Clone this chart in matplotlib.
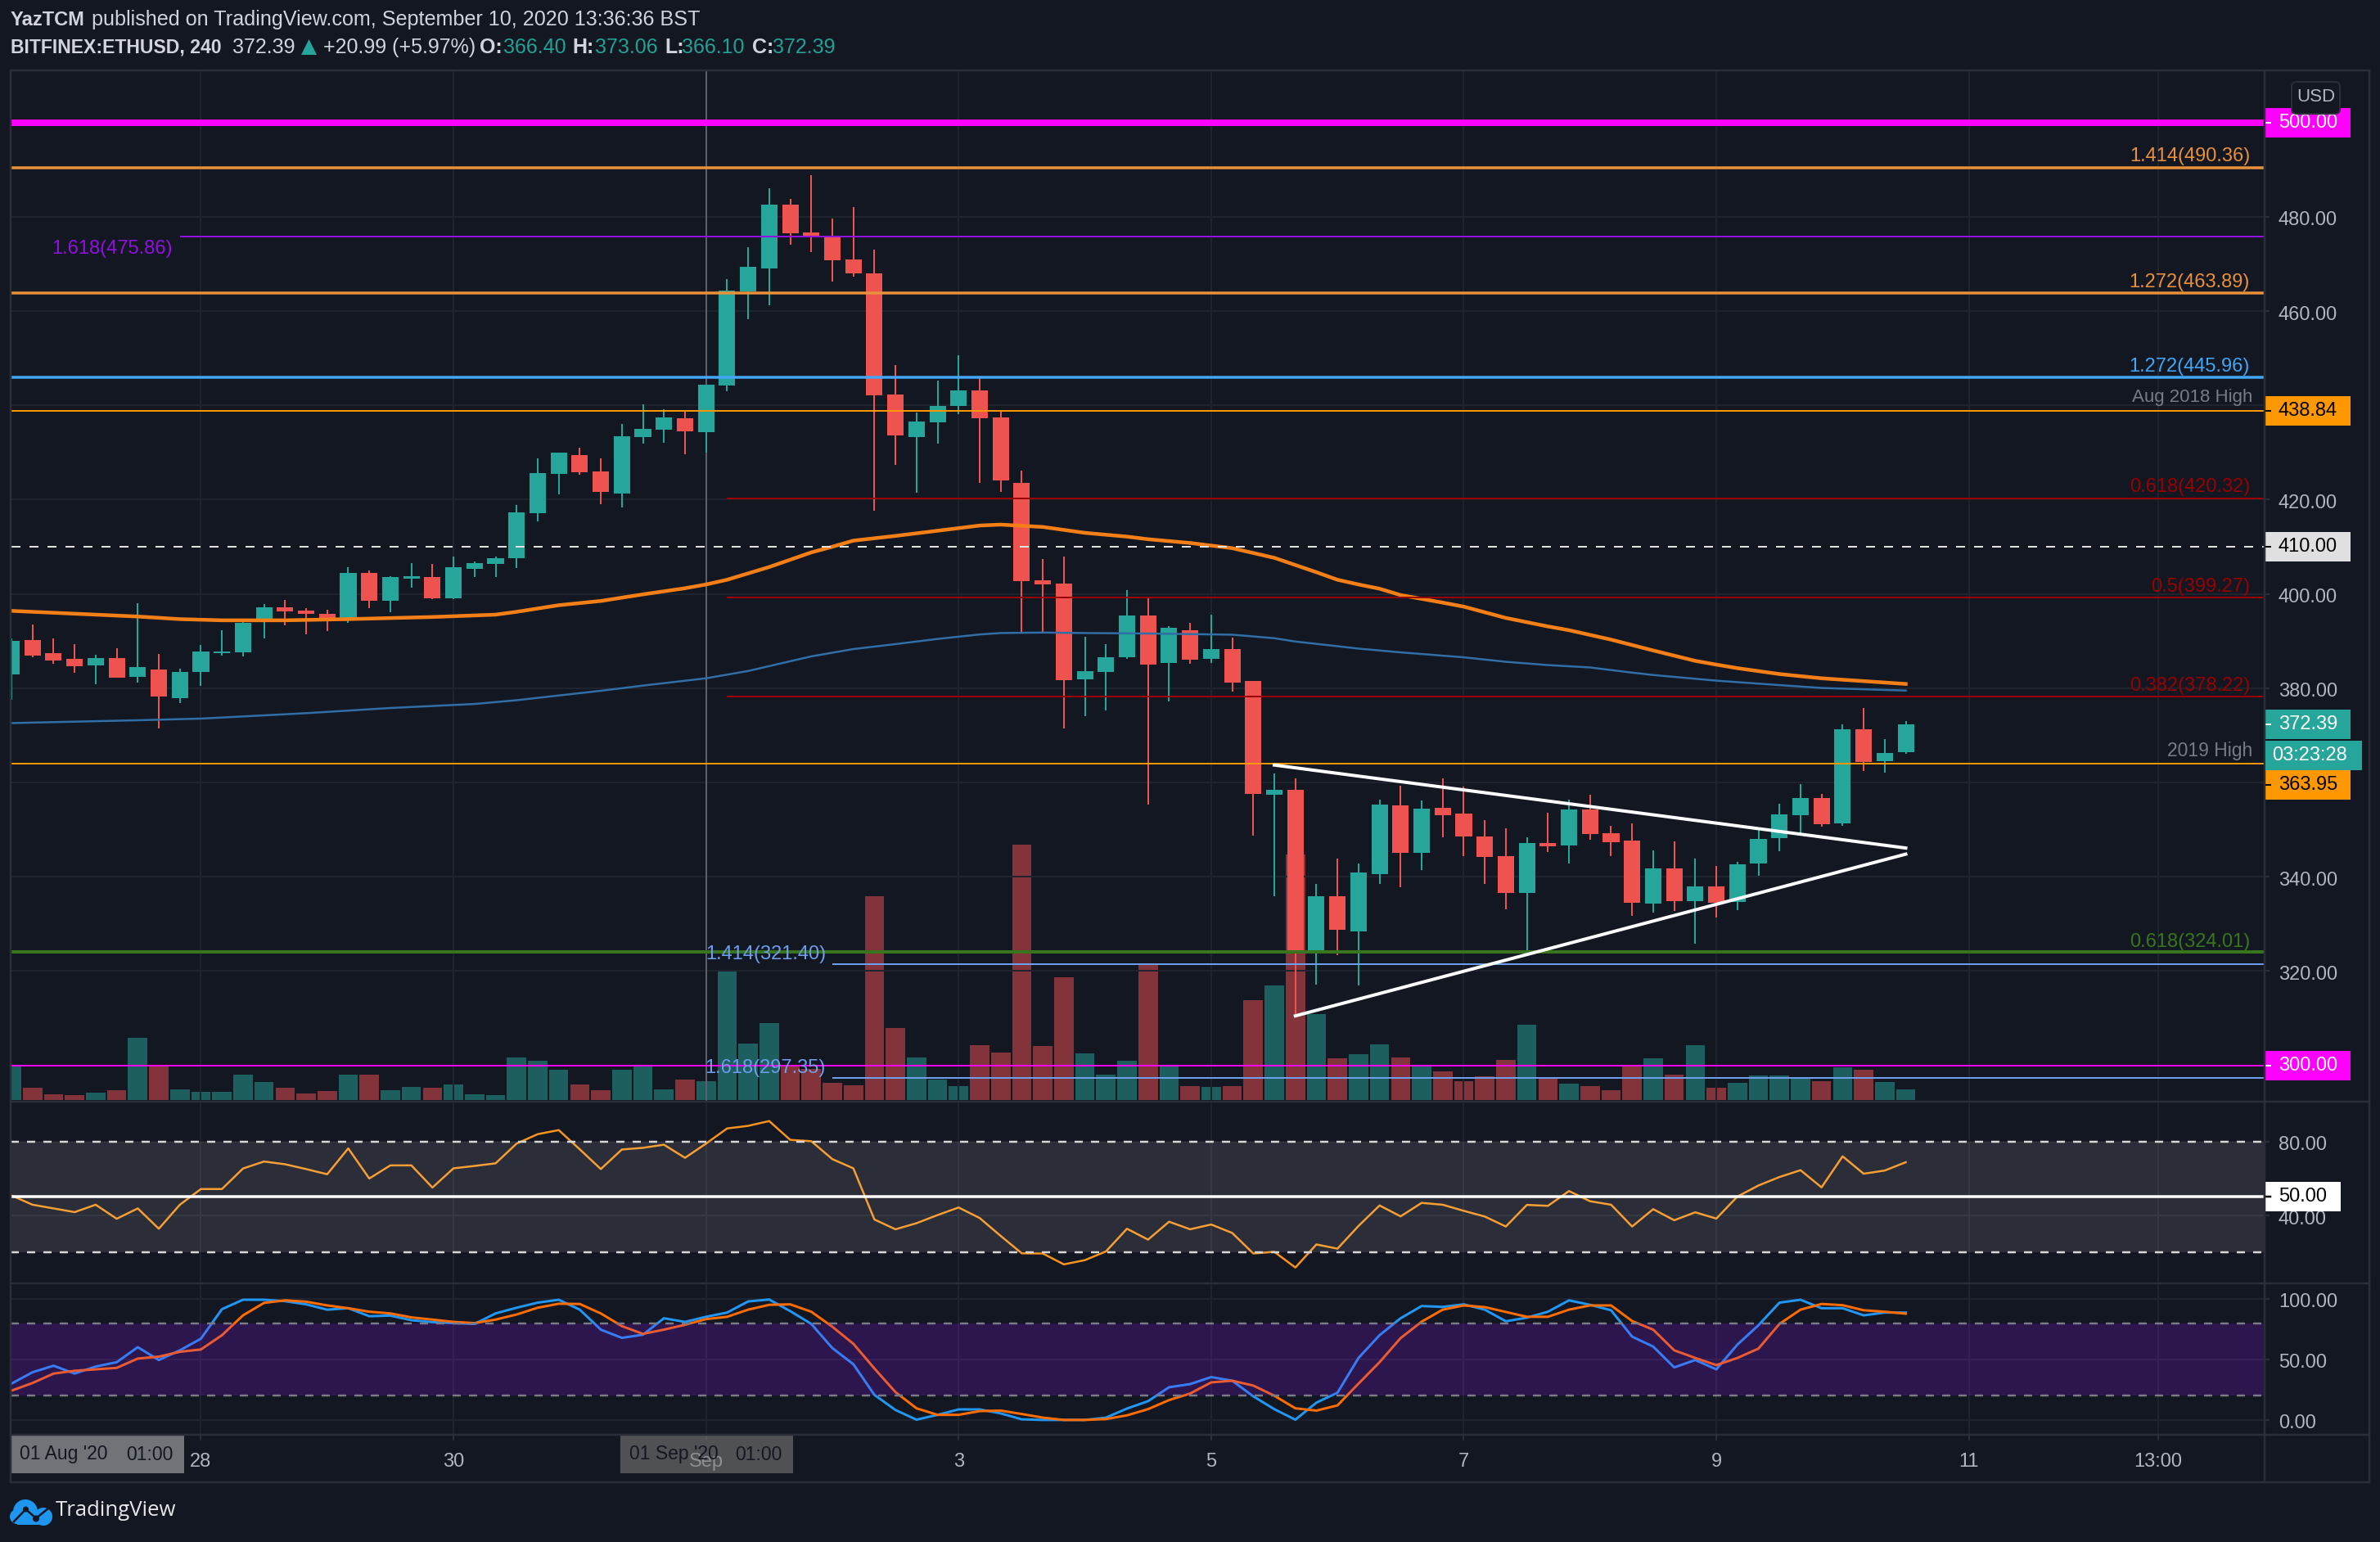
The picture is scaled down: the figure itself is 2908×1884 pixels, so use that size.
import matplotlib
matplotlib.use("Agg")
import matplotlib.pyplot as plt
from matplotlib.patches import Rectangle, Polygon, Circle, FancyBboxPatch
from matplotlib.lines import Line2D
from matplotlib.transforms import IdentityTransform, ScaledTranslation

W, H = 2908, 1884
BG = "#131722"
GRID = "#1F232D"
BORDER = "#2A2E39"
UP = "#26A69A"
DOWN = "#EF5350"
VOL_UP = "#1D5E5E"
VOL_DOWN = "#83343A"
AXIS_TXT = "#B2B5BE"
FONT = "Liberation Sans"

# ohlc of the 4h candles
opens = [382.9, 390.15, 387.4, 386.2, 384.9, 386.35, 382.4, 383.95, 377.9, 383.5,
         387.45, 387.65, 394.5, 397.1, 396.4, 395.7, 394.65, 404.4, 398.6, 403.3,
         403.55, 399.1, 405.4, 406.35, 407.5, 417.2, 425.45, 429.4, 426, 421.35,
         433.3, 434.9, 437.25, 434.3, 444.2, 464.1, 469, 482.6, 476.7, 475.6,
         471, 468, 442.3, 433.25, 436.4, 439.85, 443.15, 437.4, 423.6, 402.85,
         402.25, 381.85, 383.45, 386.55, 395.4, 385.3, 392.3, 386.2, 388.3, 381.5,
         357.4, 358.5, 323.75, 335.9, 328.45, 340.5, 355.1, 345, 354.6, 353.45,
         348.55, 344.4, 336.6, 347.15, 346.6, 354.3, 349.3, 347.65, 334.25, 341.75,
         334.8, 337.95, 334.7, 342.75, 348.2, 353.05, 356.65, 351.25, 371.3, 364.5, 366.4]
highs = [390.5, 393.5, 390.6, 389.3, 387.05, 388.45, 398, 387.2, 384.1, 389.15,
         392.25, 394.5, 397.8, 398.75, 396.95, 396.6, 405.6, 405, 403.7, 406.5,
         406.35, 407.9, 406.8, 407.9, 418.9, 428.7, 429.9, 431, 428.7, 436.1,
         440.2, 439.2, 438.8, 444.4, 466.8, 473.6, 486.1, 483.8, 488.9, 479.6,
         482, 473, 448.55, 438.5, 445.25, 450.6, 446, 438.8, 426.15, 407.45,
         407.9, 390.9, 389.3, 400.8, 399, 393.2, 393.8, 395.6, 390.7, 381.5,
         361.95, 360.9, 338.4, 343.9, 342.8, 356.35, 359.3, 356.2, 360.9, 359.1,
         352, 350.25, 348.4, 353.6, 356.35, 357.4, 350.8, 351.3, 345.6, 347.45,
         343.85, 342.25, 343.2, 350, 355.45, 359.6, 357.55, 372.3, 375.8, 369.2, 373.06]
lows = [377.6, 386.6, 385.2, 383.3, 380.85, 382.25, 381.2, 371.5, 376.9, 380.55,
        387, 386.8, 390.5, 393.4, 391.5, 392.2, 393.9, 397.05, 396.1, 401.4,
        398.9, 398.9, 403.65, 403.65, 405.45, 415.3, 421.2, 425.2, 419, 418.25,
        431.8, 432.05, 429.6, 429.9, 443.05, 458.3, 461.3, 474.05, 472.5, 466.2,
        467.25, 417.7, 427.4, 421.5, 431.9, 438.1, 423.55, 421.6, 391.7, 391.8,
        371.4, 374, 375.2, 386.2, 355.4, 377.25, 385.15, 385.3, 379.3, 348.75,
        335.9, 310.5, 317.1, 323.3, 316.95, 338.4, 337.75, 341.5, 348.4, 344.4,
        338.4, 333.05, 323.75, 345.3, 342.8, 347.85, 344.4, 331.7, 332.4, 332.7,
        325.8, 331.3, 332.9, 340.3, 345.35, 349.3, 350.6, 350.75, 362.4, 362.05, 366.1]
closes = [390, 387, 385.9, 384.7, 386.4, 382.25, 384.4, 378.15, 383.4, 387.75,
          387.8, 393.9, 397.1, 396.3, 395.7, 394.9, 404.4, 398.6, 403.55, 403.7,
          399.1, 405.65, 406.5, 407.6, 417.3, 425.6, 429.9, 425.85, 421.6, 433.4,
          435, 437.4, 434.5, 444.4, 464.4, 469.4, 482.6, 476.55, 476, 470.8,
          467.9, 442.2, 433.6, 436.55, 439.85, 443.15, 437.25, 424, 402.75, 402.05,
          381.7, 383.65, 386.55, 395.4, 384.95, 392.85, 386, 388.3, 381.15, 357.6,
          358.5, 323.75, 335.9, 328.8, 340.95, 355.3, 345, 354.5, 353.1, 348.55,
          344.2, 336.6, 347.15, 346.4, 354.3, 349.1, 347.3, 334.4, 341.75, 334.8,
          337.95, 334.4, 342.6, 348.05, 353.2, 356.65, 351.1, 371.3, 364.3, 366.25, 372.39]
volume = [41.5, 15, 7, 6, 9.5, 12, 76, 42.5, 13.5, 10,
          10, 31, 22, 15, 8, 11, 31, 31, 12, 16,
          15, 19, 7, 6, 52, 48, 37, 19, 12, 37,
          41.5, 13.5, 25, 23, 159, 69, 94, 41, 38, 21,
          18, 249, 88, 52.5, 25.5, 17, 67, 58, 312, 66,
          150, 57, 31, 48.5, 167, 41, 17, 16, 17, 122,
          140, 300, 105.5, 51, 56, 68, 52.5, 41, 35, 23,
          29.5, 49.5, 92, 27.5, 20, 17, 12, 43, 51, 31,
          67, 15, 21, 30, 30, 26, 23, 40, 37, 22, 13]
rsi = [50.8, 45.8, 43.8, 41.8, 45.8, 38.2, 43.8, 32.8, 45.8, 54.3,
       54.3, 65.4, 69.2, 67.7, 65.1, 62.3, 76.3, 60, 67.1, 67.1,
       55.1, 65.5, 66.8, 68.2, 78.9, 84, 86.2, 75.8, 65.1, 75.7,
       76.6, 78.3, 71.2, 78.9, 87.1, 88.5, 91.1, 80.9, 80.2, 70.5,
       65.5, 37.8, 32.5, 35.8, 40.2, 44.3, 38.6, 28.9, 19.5, 19.4,
       13.5, 15.8, 20.5, 32.8, 26.9, 36.6, 32.5, 35.1, 30.5, 19.4,
       20.3, 11.8, 24.3, 22, 34.3, 45.4, 39.5, 46.8, 45.8, 42.5,
       39.4, 34, 45.7, 45.2, 53.2, 47.7, 45.8, 34, 43.4, 37.4,
       41.7, 38.3, 50.2, 56.2, 60.8, 64.5, 55.2, 72, 62.6, 64.3, 68.8]
stoch_k = [30, 39.4, 44.8, 38.3, 44.1, 47.7, 60.1, 49.5, 57.5, 67.1,
           91.5, 99.3, 99.3, 98.1, 95.5, 91.1, 92.3, 85.7, 86.2, 82.4,
           80.8, 80, 79.3, 88, 92.7, 96.9, 99.3, 91.1, 74.6, 67.8,
           70.4, 84, 81, 85.2, 88.7, 97.9, 99.5, 89.9, 79.3, 59.4,
           46, 20.7, 8.2, 0.2, 4.2, 8.7, 8.7, 5.4, 0.5, 0,
           0, 0, 1.9, 9.4, 15.5, 27, 29.6, 35.4, 32.4, 19.5,
           8.9, 0.2, 14.3, 22.5, 51.2, 70, 84, 94.1, 93.4, 95.5,
           91.1, 81.5, 84.5, 89.4, 98.8, 95.1, 90.6, 68.8, 60.6, 43.4,
           49.5, 41.8, 62.2, 78.2, 96.9, 99.3, 92.3, 92.3, 86.4, 88.7, 88.7]
stoch_d = [24.2, 30.5, 38.3, 40.6, 41.8, 43, 50.7, 52.3, 56.3, 58.2,
           70, 86.4, 96.7, 98.8, 97.7, 94.6, 92.3, 89.4, 88, 84.7,
           82.9, 81, 80, 82.9, 87.1, 92.7, 96, 95.8, 88, 77.5,
           71.1, 74.6, 78.6, 83.3, 85.2, 91.1, 95.1, 95.5, 89.4, 77,
           62.9, 42.5, 23, 9.6, 4.2, 4.2, 7.3, 7.7, 4.9, 1.9,
           0, 0, 0.7, 3.8, 8.9, 16.4, 21.8, 31, 32.4, 28.4,
           20, 9.6, 7.7, 12, 30, 47.7, 67.6, 81.2, 91.1, 94.6,
           93.2, 89.2, 85.2, 85.2, 91.1, 94.6, 94.6, 81.7, 74.6, 57.5,
           51.2, 45.3, 51.2, 58.9, 79.3, 91.1, 95.8, 94.8, 90.6, 89.4, 87.8]

# moving averages, read at a subset of candles
ema_idx = [0, 6, 8, 10, 13, 16, 20, 23, 24, 26, 28, 30, 32, 33, 34, 35, 36, 38, 39, 40, 42,
           44, 46, 47, 49, 51, 53, 54, 56, 58, 60, 62, 63, 64, 65, 66, 68, 69, 71, 73, 74,
           76, 78, 80, 81, 82, 84, 86, 88, 90]
ema_vals = [396.4, 395.2, 394.65, 394.4, 394.4, 394.65, 395.1, 395.6, 396.2, 397.6, 398.5, 399.9,
            401.2, 402, 403, 404.35, 405.7, 408.8, 410, 411.3, 412.3,
            413.4, 414.5, 414.7, 414.2, 412.95, 412.15, 411.6, 410.8, 409.7, 407.65, 404.6, 403,
            402, 401.1, 399.75, 398.15, 397.3, 394.9, 393.1, 392.3,
            390.3, 388, 385.8, 385, 384.25, 383, 382.1, 381.5, 380.9]
ma_idx = [0, 6, 9, 14, 18, 22, 24, 28, 30, 33, 35, 38, 40, 42, 44, 46, 47, 49, 51, 54, 58, 60,
          61, 64, 66, 69, 71, 73, 75, 77, 78, 81, 84, 86, 90]
ma_vals = [372.6, 373.2, 373.55, 374.7, 375.8, 376.65, 377.45, 379.45, 380.55, 382.1, 383.65,
           386.75, 388.3, 389.35, 390.45, 391.4, 391.7, 391.8, 391.7, 391.6, 391.35, 390.6,
           389.9, 388.4, 387.6, 386.55, 385.6, 384.9, 384.4, 383.3, 382.8, 381.6, 380.65, 380.05, 379.5]

x_ticks = [9, 21, 33, 45, 57, 69, 81, 93, 102]
x_labels = ["28", "30", "Sep", "3", "5", "7", "9", "11", "13:00"]
price_ticks = [300, 320, 340, 360, 380, 400, 420, 440, 460, 480, 500]
price_labels = ["", "320.00", "340.00", "", "380.00", "400.00", "420.00", "", "460.00", "480.00", ""]

# level, first candle, colour, width px
levels = [(500, 0, "#FF00FF", 8), (490.36, 0, "#E8903A", 3.5), (475.86, 8, "#9010E0", 2),
          (463.89, 0, "#E8903A", 3.5), (445.96, 0, "#42A5F5", 3.5), (438.84, 0, "#FF9800", 2),
          (420.32, 34, "#990000", 2), (399.27, 34, "#990000", 2), (378.22, 34, "#990000", 2),
          (363.95, 0, "#FF9800", 2), (324.01, 0, "#38761D", 4), (321.40, 39, "#6D9EEB", 2),
          (300, 0, "#FF00FF", 2), (297.35, 39, "#6D9EEB", 2)]
# label, right edge px, centre y px, colour
level_text = [("1.414(490.36)", 2749, 191.5, "#E8903A"), ("1.272(463.89)", 2749, 345, "#E8903A"),
              ("1.272(445.96)", 2749, 448, "#42A5F5"), ("0.618(420.32)", 2749, 595.5, "#990000"),
              ("0.5(399.27)", 2749, 717, "#990000"), ("0.382(378.22)", 2749, 838, "#990000"),
              ("0.618(324.01)", 2749, 1151, "#38761D"), ("1.618(475.86)", 211, 304, "#9010E0"),
              ("1.414(321.40)", 1009, 1166, "#6D9EEB"), ("1.618(297.35)", 1009, 1305, "#6D9EEB")]
# price position of tag, text, fill, text colour
tags = [(500, "500.00", "#FF00FF", "white"), (438.84, "438.84", "#FF9800", "black"),
        (410, "410.00", "#E0E0E0", "black"), (372.39, "372.39", "#26A69A", "white"),
        (359.46, "363.95", "#FF9800", "black"), (300, "300.00", "#FF00FF", "white")]
# triangle trendlines
upper_x, upper_y = [60, 90], [363.7, 346.1]
lower_x, lower_y = [61, 90], [310.5, 344.8]

LEFT, RIGHT, OUTER = 13, 2767, 2895
TOP, Y1, Y2, Y3, BOTTOM = 86, 1346, 1567.6, 1752.9, 1811


def px(v):
    return v * 0.72


def pane(y0, y1):
    return fig.add_axes([LEFT / W, 1 - y1 / H, (RIGHT - LEFT) / W, (y1 - y0) / H])


def label(x, y, s, size=17, color="#D1D4DC", ha="left", weight="normal", family=FONT):
    fig.text(x / W, 1 - y / H, s, fontsize=size, color=color, ha=ha, va="center",
             fontweight=weight, family=family, zorder=20)


def style_pane(a):
    a.set_facecolor(BG)
    a.set_xlim(-0.04, 107.05)
    a.yaxis.tick_right()
    a.tick_params(axis="y", colors=AXIS_TXT, length=px(6), width=px(2), pad=px(11),
                  color=BORDER, labelsize=17)
    a.tick_params(axis="x", length=0, labelbottom=False)
    a.set_xticks(x_ticks)
    a.grid(True, color=GRID, lw=px(2), zorder=0)
    a.set_axisbelow(True)
    for s in a.spines.values():
        s.set_visible(False)


plt.rcParams["font.family"] = FONT
fig = plt.figure(figsize=(W / 100, H / 100), dpi=100, facecolor=BG)

# volume lives underneath the price pane
ax_vol = pane(TOP, Y1)
ax_vol.set_facecolor(BG)
ax_vol.set_xlim(-0.04, 107.05)
ax_vol.set_ylim(-2, 1258)
ax_vol.axis("off")
idx = list(range(len(closes)))
vol_colors = [VOL_UP if c >= o else VOL_DOWN for o, c in zip(opens, closes)]
ax_vol.bar(idx, volume, width=0.92, color=vol_colors, linewidth=0)

ax = pane(TOP, Y1)
style_pane(ax)
ax.patch.set_alpha(0)
ax.set_ylim(292.3, 511.04)
ax.set_yticks(price_ticks)
ax.set_yticklabels(price_labels, family=FONT)

colors = [UP if c >= o else DOWN for o, c in zip(opens, closes)]
ax.vlines(idx, lows, highs, colors=colors, lw=px(2), zorder=3)
ax.bar(idx, [abs(c - o) for o, c in zip(opens, closes)],
       bottom=[min(o, c) for o, c in zip(opens, closes)],
       width=0.78, color=colors, linewidth=0, zorder=4)

ax.plot(ma_idx, ma_vals, color="#2F6EA6", lw=px(2.5), zorder=5)
ax.plot(ema_idx, ema_vals, color="#F57F17", lw=px(4.5), zorder=5)

ax.axvline(x_ticks[2], color="#5D606B", lw=px(2), zorder=2)
xmax = ax.get_xlim()[1]
for price, start, col, width in levels:
    ax.plot([start, xmax], [price, price], color=col, lw=px(width), zorder=6,
            solid_capstyle="butt")
ax.plot([0, xmax], [410, 410], color="#E0E0E0", lw=px(2), ls=(0, (5.5, 5.5)), zorder=6)
ax.plot(upper_x, upper_y, color="white", lw=px(4), zorder=7)
ax.plot(lower_x, lower_y, color="white", lw=px(4), zorder=7)

for s, x, y, col in level_text:
    label(x, y, s, color=col, ha="right")
label(2752, 486, "Aug 2018 High", size=16, color="#787B86", ha="right")
label(2752, 917, "2019 High", size=16.5, color="#787B86", ha="right")

# price tags on the scale
trans = ax.get_yaxis_transform()
tag_w = 105 / (RIGHT - LEFT)
unit_h = 36 / 5.76
for price, s, bg, fg in tags:
    ax.add_patch(Rectangle((1, price - unit_h / 2), tag_w, unit_h, transform=trans,
                           facecolor=bg, edgecolor="none", clip_on=False, zorder=10))
    ax.plot([1, 1 + 7 / (RIGHT - LEFT)], [price, price], transform=trans, color=fg, lw=px(2),
            clip_on=False, zorder=11)
    ax.text(1 + 17 / (RIGHT - LEFT), price, s, transform=trans, color=fg, fontsize=17,
            va="center", ha="left", zorder=12)

fig.add_artist(Rectangle((2768, H - 941), 117.5, 36, facecolor="#26A69A", edgecolor="none",
                         transform=IdentityTransform(), zorder=10))
label(2776, 923, "03:23:28", color="white")

fig.add_artist(FancyBboxPatch((2804, H - 135), 51, 31, boxstyle="round,pad=4,rounding_size=6",
                              facecolor=BG, edgecolor=BORDER, lw=px(2),
                              transform=IdentityTransform(), zorder=15))
label(2829.5, 118, "USD", size=16, color=AXIS_TXT, ha="center")

# RSI pane
ax_rsi = pane(Y1, Y2)
style_pane(ax_rsi)
ax_rsi.set_ylim(3.4, 101.6)
ax_rsi.set_yticks([40, 80])
ax_rsi.set_yticklabels(["40.00", "80.00"], family=FONT)
ax_rsi.plot(idx, rsi, color="#F7931E", lw=px(2.5), zorder=3)
ax_rsi.axhspan(20, 80, color="white", alpha=0.1, lw=0, zorder=4)
for lvl in [20, 80]:
    ax_rsi.plot([-0.04, xmax + 0.25], [lvl, lvl], color="#D6D6D6", lw=px(2.5), ls=(0, (4, 4)),
                zorder=5, clip_on=False)
ax_rsi.axhline(50, color="white", lw=px(3.5), zorder=5)
trans_rsi = ax_rsi.get_yaxis_transform()
tag_h = 36 / 2.255
ax_rsi.add_patch(Rectangle((1, 50 - tag_h / 2), 93 / (RIGHT - LEFT), tag_h, transform=trans_rsi,
                           facecolor="white", edgecolor="none", clip_on=False, zorder=10))
ax_rsi.plot([1, 1 + 7 / (RIGHT - LEFT)], [50, 50], transform=trans_rsi, color="black", lw=px(2.5),
            clip_on=False, zorder=11)
ax_rsi.text(1 + 17 / (RIGHT - LEFT), 50, "50.00", transform=trans_rsi, color="black",
            fontsize=17, va="center", ha="left", zorder=12)

# stoch RSI pane
ax_st = pane(Y2, Y3)
style_pane(ax_st)
ax_st.set_ylim(-12.2, 113.1)
ax_st.set_yticks([0, 50, 100])
ax_st.set_yticklabels(["0.00", "50.00", "100.00"], family=FONT)
ax_st.plot(idx, stoch_k, color="#2196F3", lw=px(3), zorder=3)
ax_st.plot(idx, stoch_d, color="#FF6D00", lw=px(3), zorder=3)
ax_st.axhspan(20, 80, color="#9915FF", alpha=0.2, lw=0, zorder=4)
for lvl in [20, 80]:
    ax_st.axhline(lvl, color="#787B86", lw=px(2.5), ls=(0, (4, 4)), zorder=5)

# scale labels sit a touch below their ticks
shift = ScaledTranslation(0, -2 / 100, fig.dpi_scale_trans)
for a in [ax, ax_rsi, ax_st]:
    for t in a.get_yticklabels():
        t.set_transform(t.get_transform() + shift)

# time axis
ax_st.tick_params(axis="x", length=px(7), width=px(2), color=BORDER, labelbottom=True,
                  labelcolor=AXIS_TXT, labelsize=17, pad=px(15))
ax_st.set_xticklabels(x_labels, family=FONT)

fig.add_artist(Rectangle((14, H - 1800), 211, 46, facecolor="#707478", edgecolor="none",
                         transform=IdentityTransform(), zorder=8))
fig.add_artist(Rectangle((758, H - 1800), 211, 46, facecolor="#787878", alpha=0.6, edgecolor="none",
                         transform=IdentityTransform(), zorder=8))
label(24, 1777, "01 Aug '20", color="#131722", size=16.5)
label(154, 1777, "01:00", color="#131722", size=16.5)
label(769, 1777, "01 Sep '20", color="#131722", size=16.5)
label(898, 1777, "01:00", color="#131722", size=16.5)

# frame
for y in [TOP, Y1, Y2, Y3, BOTTOM]:
    fig.add_artist(Line2D([LEFT, OUTER], [H - y, H - y], color=BORDER, lw=px(2.5),
                          transform=IdentityTransform(), zorder=9))
for x in [LEFT, RIGHT, OUTER]:
    fig.add_artist(Line2D([x, x], [H - TOP, H - BOTTOM], color=BORDER, lw=px(2.5),
                          transform=IdentityTransform(), zorder=9))

# header
label(13, 24.5, "YazTCM", weight="bold", size=17)
label(112, 24.5, "published on TradingView.com, September 10, 2020 13:36:36 BST", size=18.1)
label(13, 58, "BITFINEX:ETHUSD, 240", weight="bold", size=16.6)
label(284, 58, "372.39", size=18)
fig.add_artist(Polygon([(368, H - 67), (387, H - 67), (377.5, H - 48)], closed=True, facecolor=UP,
                       edgecolor="none", transform=IdentityTransform(), zorder=10))
label(395, 58, "+20.99 (+5.97%)", size=18)
for x0, s, x1, val in [(586, "O:", 614.5, "366.40"), (699, "H:", 727.5, "373.06"),
                       (812, "L:", 833, "366.10"), (919, "C:", 944, "372.39")]:
    label(x0, 58, s, weight="bold", size=18)
    label(x1, 58, val, color="#22A094", size=18)

# logo
logo = "#1E96F0"
for cx, cy, r in [(31, 1847, 15), (21, 1853, 9), (53, 1853, 11)]:
    fig.add_artist(Circle((cx, H - cy), r, facecolor=logo, edgecolor="none",
                          transform=IdentityTransform(), zorder=10))
fig.add_artist(Rectangle((21, H - 1862.5), 32, 13, facecolor=logo, edgecolor="none",
                         transform=IdentityTransform(), zorder=10))
fig.add_artist(Line2D([17, 31.5, 44, 59], [H - 1859, H - 1844, H - 1855, H - 1843], color=BG,
                      lw=px(2.5), transform=IdentityTransform(), zorder=11))
for cx, cy, r in [(31.5, 1844, 3.5), (44, 1855.5, 4)]:
    fig.add_artist(Circle((cx, H - cy), r, facecolor=BG, edgecolor="none",
                          transform=IdentityTransform(), zorder=12))
label(68, 1846, "TradingView", size=18.5, color="#E8E8EA", family="Open Sans")

fig.savefig("out.png", dpi=100, facecolor=BG)
